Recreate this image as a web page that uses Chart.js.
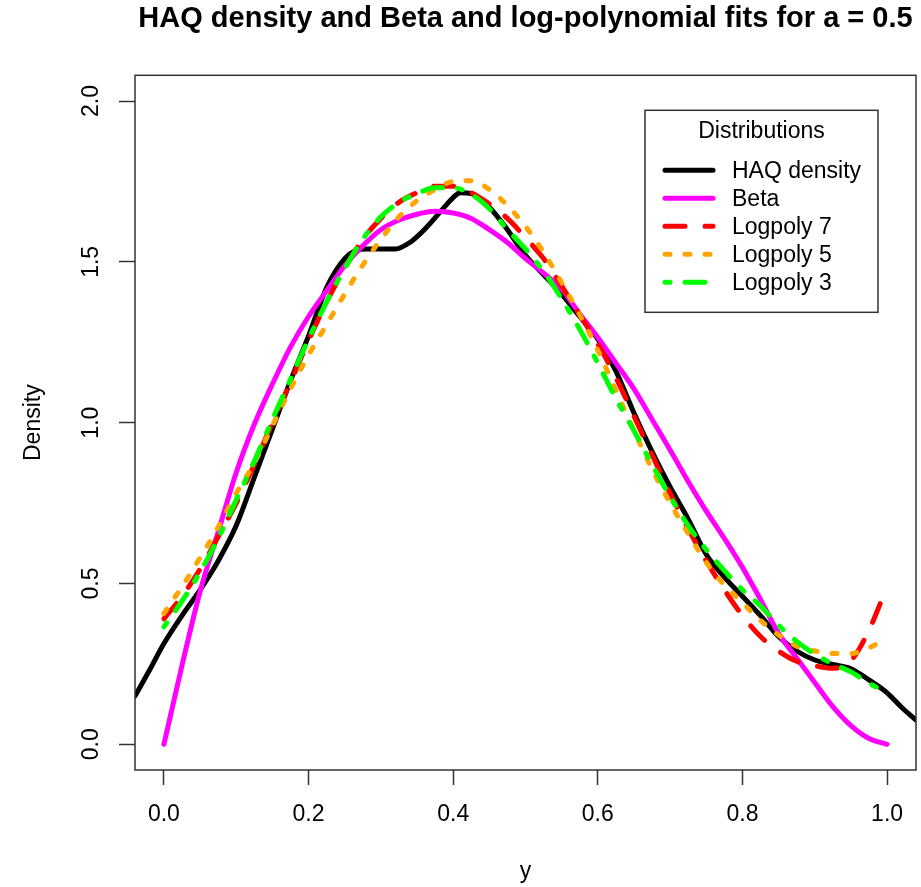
<!DOCTYPE html>
<html>
<head>
<meta charset="utf-8">
<script src="https://cdn.jsdelivr.net/npm/chart.js@4"></script>
<style>
  body { margin: 0; background: #fff; }
  canvas { display: block; }
</style>
</head>
<body>
<canvas id="densityChart" width="921" height="887"></canvas>
<script>
var chartTitle = "HAQ density and Beta and log-polynomial fits for a = 0.5"
var xTitle = "y"
var yTitle = "Density"
var legendTitle = "Distributions"
var seriesNames = ["HAQ density", "Beta", "Logpoly 7", "Logpoly 5", "Logpoly 3"]

var xTicks = [0, 0.2, 0.4, 0.6, 0.8, 1.0]
var yTicks = [0, 0.5, 1.0, 1.5, 2.0]

// kernel density (runs past both edges of the plot)
var haqX = [-0.04, -0.02, 0, 0.025, 0.05, 0.075, 0.1, 0.125, 0.15, 0.175, 0.2, 0.225, 0.25, 0.265, 0.28, 0.3, 0.32,
    0.34, 0.36, 0.38, 0.4, 0.41, 0.425, 0.45, 0.475, 0.5, 0.525, 0.55, 0.575, 0.6, 0.625, 0.65, 0.675, 0.7, 0.725,
    0.75, 0.775, 0.8, 0.825, 0.85, 0.875, 0.9, 0.925, 0.95, 0.975, 1.0, 1.02, 1.04]
var haqY = [0.15, 0.23, 0.313, 0.40, 0.48, 0.57, 0.68, 0.83, 0.98, 1.13, 1.27, 1.42, 1.51, 1.535, 1.54, 1.54, 1.54,
    1.56, 1.60, 1.65, 1.70, 1.715, 1.712, 1.67, 1.60, 1.52, 1.46, 1.40, 1.33, 1.26, 1.16, 1.03, 0.91, 0.80, 0.70,
    0.59, 0.52, 0.46, 0.40, 0.335, 0.29, 0.262, 0.248, 0.235, 0.20, 0.16, 0.115, 0.075]

// fitted curves share one grid on [0, 1]
var fitX = [0, 0.025, 0.05, 0.075, 0.1, 0.125, 0.15, 0.175, 0.2, 0.225, 0.25, 0.275, 0.3, 0.325, 0.35, 0.375, 0.4,
    0.425, 0.45, 0.475, 0.5, 0.525, 0.55, 0.575, 0.6, 0.625, 0.65, 0.675, 0.7, 0.725, 0.75, 0.775, 0.8, 0.825, 0.85,
    0.875, 0.9, 0.925, 0.95, 0.975, 1.0]
var betaY = [0, 0.245, 0.475, 0.66, 0.845, 0.995, 1.12, 1.235, 1.33, 1.41, 1.488, 1.55, 1.60, 1.63, 1.648, 1.657, 1.652,
    1.635, 1.60, 1.56, 1.51, 1.465, 1.415, 1.338, 1.265, 1.185, 1.105, 1.01, 0.915, 0.817, 0.725, 0.64, 0.55, 0.45, 0.345,
    0.268, 0.192, 0.117, 0.058, 0.018, 0]
var logpoly7Y = [0.39, 0.46, 0.545, 0.645, 0.75, 0.87, 1.0, 1.125, 1.255, 1.375, 1.48, 1.57, 1.635, 1.685, 1.715, 1.735, 1.735,
    1.715, 1.68, 1.635, 1.575, 1.51, 1.425, 1.335, 1.245, 1.14, 1.02, 0.9, 0.78, 0.67, 0.57, 0.48, 0.40, 0.335, 0.29,
    0.258, 0.244, 0.236, 0.26, 0.355, 0.49]
var logpoly5Y = [0.407, 0.49, 0.58, 0.675, 0.78, 0.875, 0.99, 1.105, 1.21, 1.305, 1.40, 1.49, 1.57, 1.64, 1.69, 1.725, 1.75,
    1.752, 1.725, 1.675, 1.61, 1.53, 1.435, 1.335, 1.225, 1.10, 0.975, 0.855, 0.75, 0.655, 0.565, 0.495, 0.44, 0.385, 0.34,
    0.305, 0.29, 0.282, 0.282, 0.30, 0.33]
var logpoly3Y = [0.365, 0.445, 0.535, 0.64, 0.76, 0.88, 1.01, 1.135, 1.26, 1.375, 1.48, 1.57, 1.64, 1.685, 1.712, 1.73, 1.73,
    1.71, 1.665, 1.60, 1.54, 1.47, 1.385, 1.29, 1.185, 1.075, 0.975, 0.87, 0.77, 0.68, 0.605, 0.54, 0.48, 0.43, 0.37,
    0.32, 0.28, 0.25, 0.225, 0.19, 0.16]

var colors = ['#000000', '#ff00ff', '#ff0000', '#ffa500', '#00ff00']
var dashes = [[], [], [20, 20], [5, 15], [5, 15, 20, 15]]
var lineWidth = 5
var fontFamily = '"Liberation Sans", Arial, sans-serif'

function toPoints(xs, ys) {
    return xs.map((x, i) => ({ x: x, y: ys[i] }))
}

function makeDataset(i, xs, ys) {
    return {
        label: seriesNames[i],
        data: toPoints(xs, ys),
        borderColor: colors[i],
        backgroundColor: colors[i],
        borderWidth: lineWidth,
        borderDash: dashes[i],
        borderCapStyle: 'round',
        borderJoinStyle: 'round',
        cubicInterpolationMode: 'monotone',
        pointRadius: 0,
        fill: false,
        clip: 0,
        // R draws the fits after the density, so the last one sits on top
        order: seriesNames.length - i
    }
}

// box round the plot region, like R's box()
const plotFrame = {
    id: 'plotFrame',
    afterDraw(chart) {
        const { ctx, chartArea } = chart
        ctx.save()
        ctx.strokeStyle = '#333'
        ctx.lineWidth = 1.5
        ctx.strokeRect(chartArea.left, chartArea.top, chartArea.right - chartArea.left, chartArea.bottom - chartArea.top)
        ctx.restore()
    }
}

// legend with a title, drawn inside the plot at the top right
const boxedLegend = {
    id: 'boxedLegend',
    afterDatasetsDraw(chart) {
        const { ctx, chartArea } = chart
        const left = chartArea.right - 271
        const top = chartArea.top + 35
        const w = 233
        const h = 202
        ctx.save()
        ctx.fillStyle = '#fff'
        ctx.fillRect(left, top, w, h)
        ctx.strokeStyle = '#333'
        ctx.lineWidth = 1.5
        ctx.strokeRect(left, top, w, h)
        ctx.font = '23px ' + fontFamily
        ctx.fillStyle = '#000'
        ctx.textBaseline = 'middle'
        ctx.textAlign = 'center'
        ctx.fillText(legendTitle, left + w / 2, top + 21)
        ctx.textAlign = 'left'
        chart.data.datasets.forEach((ds, i) => {
            const y = top + 60 + i * 28
            ctx.beginPath()
            ctx.setLineDash(ds.borderDash)
            ctx.lineWidth = ds.borderWidth
            ctx.lineCap = 'round'
            ctx.strokeStyle = ds.borderColor
            ctx.moveTo(left + 20, y)
            ctx.lineTo(left + 68, y)
            ctx.stroke()
            ctx.setLineDash([])
            ctx.fillStyle = '#000'
            ctx.fillText(ds.label, left + 87, y + 1)
        })
        ctx.restore()
    }
}

function init() {
    Chart.defaults.font.family = fontFamily
    Chart.defaults.color = '#000'

    let datasets = [
        makeDataset(0, haqX, haqY),
        makeDataset(1, fitX, betaY),
        makeDataset(2, fitX, logpoly7Y),
        makeDataset(3, fitX, logpoly5Y),
        makeDataset(4, fitX, logpoly3Y)
    ]

    const chartConfig = {
        type: 'line',
        data: { datasets: datasets },
        options: {
            responsive: false,
            animation: false,
            devicePixelRatio: 1,
            layout: { padding: { left: 0, right: 5, top: 0, bottom: 0 } },
            plugins: {
                legend: { display: false },
                tooltip: { enabled: false },
                title: {
                    display: true,
                    text: chartTitle,
                    fullSize: false,
                    color: '#000',
                    font: { size: 29, weight: 'bold' },
                    padding: { top: 1.5, bottom: 39 }
                }
            },
            scales: {
                x: {
                    type: 'linear',
                    min: -0.04,
                    max: 1.04,
                    afterBuildTicks: (scale) => { scale.ticks = xTicks.map(v => ({ value: v })) },
                    afterFit: (scale) => { scale.height = 117 },
                    border: { display: false },
                    grid: { display: true, drawOnChartArea: false, drawTicks: true, tickLength: 15, tickColor: '#333', tickWidth: 1.5 },
                    ticks: {
                        font: { size: 23 },
                        color: '#000',
                        padding: 16,
                        maxRotation: 0,
                        autoSkip: false,
                        callback: (v) => Number(v).toFixed(1)
                    },
                    title: { display: true, text: xTitle, color: '#000', font: { size: 23 }, padding: { top: 0, bottom: 2 } }
                },
                y: {
                    type: 'linear',
                    min: -0.08,
                    max: 2.08,
                    afterBuildTicks: (scale) => { scale.ticks = yTicks.map(v => ({ value: v })) },
                    afterFit: (scale) => { scale.width = 135 },
                    border: { display: false },
                    grid: { display: true, drawOnChartArea: false, drawTicks: true, tickLength: 16, tickColor: '#333', tickWidth: 1.5 },
                    ticks: {
                        font: { size: 23 },
                        color: '#000',
                        padding: 11.5,
                        minRotation: 90,
                        maxRotation: 90,
                        crossAlign: 'center',
                        autoSkip: false,
                        callback: (v) => Number(v).toFixed(1)
                    },
                    title: { display: true, text: yTitle, color: '#000', font: { size: 23 }, padding: { top: 20, bottom: 0 } }
                }
            }
        },
        plugins: [plotFrame, boxedLegend]
    }

    const canvas = document.getElementById('densityChart').getContext('2d')
    new Chart(canvas, chartConfig)
}

init()
</script>
</body>
</html>
